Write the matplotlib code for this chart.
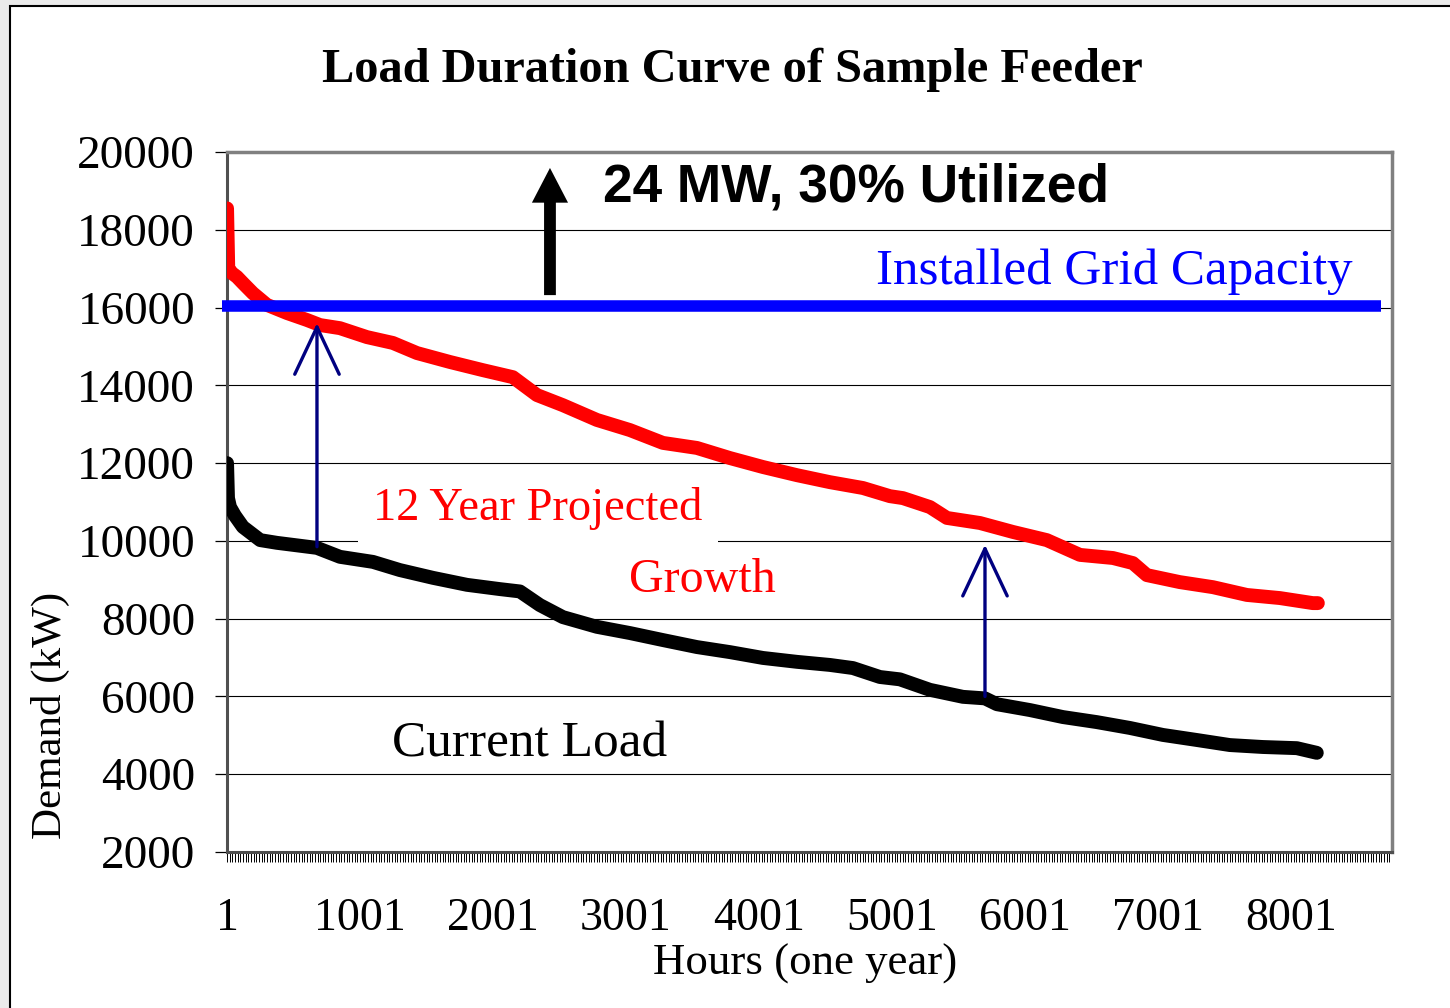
import numpy as np
import matplotlib.pyplot as plt
from matplotlib.patches import Rectangle

# load duration data (hour rank -> kW)
hours_current = [1, 8, 23, 60, 120, 250, 376, 677, 850, 1098, 1300, 1549, 1805,
                 2053, 2203, 2353, 2526, 2782, 3030, 3278, 3534, 3782, 4030, 4286,
                 4534, 4707, 4910, 5060, 5286, 5534, 5700, 5790, 6038, 6286, 6541,
                 6789, 7038, 7293, 7541, 7789, 8045, 8195]
load_current = [12000, 11100, 10870, 10650, 10360, 10020, 9950, 9820, 9590, 9460,
                9250, 9050, 8870, 8760, 8700, 8350, 8040, 7790, 7630, 7450, 7270,
                7140, 6990, 6890, 6810, 6730, 6500, 6440, 6170, 5990, 5950, 5800,
                5650, 5470, 5340, 5190, 5010, 4880, 4750, 4700, 4670, 4550]

hours_projected = [1, 10, 40, 75, 120, 195, 300, 451, 602, 700, 850, 1053, 1248,
                   1429, 1677, 1925, 2150, 2331, 2526, 2782, 3030, 3278, 3534, 3782,
                   4030, 4286, 4534, 4782, 4985, 5083, 5286, 5414, 5662, 5910, 6165,
                   6414, 6662, 6812, 6917, 7165, 7414, 7669, 7917, 8165, 8203]
load_projected = [18550, 17000, 16880, 16790, 16630, 16370, 16070, 15860, 15680,
                  15550, 15470, 15240, 15090, 14830, 14600, 14390, 14210, 13750,
                  13490, 13110, 12850, 12520, 12390, 12130, 11900, 11690, 11510,
                  11360, 11150, 11100, 10870, 10590, 10460, 10230, 10020, 9640, 9560,
                  9430, 9120, 8940, 8810, 8610, 8530, 8400, 8400]

capacity_kw = 16050
capacity_span = [-40, 8677]

x_ticks = [1, 1001, 2001, 3001, 4001, 5001, 6001, 7001, 8001]
y_ticks = list(range(2000, 20001, 2000))

# growth arrows (hour, from kW, to kW)
growth_arrows = [(677, 9850, 15600), (5700, 6000, 9900)]
util_arrow = (2429, 16320, 19590)

serif = "Liberation Serif"
sans = "Liberation Sans"

fig = plt.figure(figsize=(14.5, 10.08), dpi=100, facecolor="#ebebeb")
fig.add_artist(Rectangle((10 / 1450, -0.05), 1.1, 1 - 6 / 1008 + 0.05,
                         transform=fig.transFigure, facecolor="white",
                         edgecolor="black", lw=1.5, zorder=0))

ax = fig.add_axes([227 / 1450, 156 / 1008, 1165 / 1450, 700 / 1008])
ax.set_facecolor("white")

ax.plot(hours_current, load_current, color="black", lw=10,
        solid_capstyle="round", solid_joinstyle="round", zorder=3)
ax.plot(hours_projected, load_projected, color="#ff0000", lw=10,
        solid_capstyle="round", solid_joinstyle="round", zorder=3)
ax.plot(capacity_span, [capacity_kw, capacity_kw], color="#0000ff", lw=8.3,
        solid_capstyle="butt", clip_on=False, zorder=4)

for h, y0, y1 in growth_arrows:
    ax.annotate("", xy=(h, y1), xytext=(h, y0),
                arrowprops=dict(arrowstyle="->,head_length=3.4,head_width=1.6",
                                mutation_scale=10, color="#000080", lw=2.4,
                                shrinkA=0, shrinkB=0), zorder=5)

h, y0, y1 = util_arrow
ax.annotate("", xy=(h, y1), xytext=(h, y0),
            arrowprops=dict(arrowstyle="simple,head_length=0.5,head_width=0.52,tail_width=0.17",
                            mutation_scale=50, color="black", lw=0,
                            shrinkA=0, shrinkB=0), zorder=5)

ax.set_xlim(0.5, 8760.5)
ax.set_ylim(2000, 20000)
ax.set_yticks(y_ticks)
ax.set_xticks(x_ticks)
ax.set_xticks(np.arange(1, 8761, 20), minor=True)
ax.set_xticklabels([str(t) for t in x_ticks])
ax.grid(axis="y", color="black", lw=0.8, zorder=1)
ax.set_axisbelow(True)

ax.tick_params(axis="y", direction="out", length=9, width=0.9, pad=14,
               labelsize=34, colors="black")
ax.tick_params(axis="x", which="both", direction="out", length=7, width=0.7,
               pad=26, labelsize=33)
for lab in ax.get_xticklabels() + ax.get_yticklabels():
    lab.set_fontfamily(serif)

for side in ["top", "right"]:
    ax.spines[side].set_color("#808080")
    ax.spines[side].set_linewidth(2.5)
ax.spines["left"].set_color("#505050")
ax.spines["left"].set_linewidth(2.2)
ax.spines["bottom"].set_color("#505050")
ax.spines["bottom"].set_linewidth(2.2)

# annotations
ax.text(2827, 18740, "24 MW, 30% Utilized", family=sans, fontweight="bold",
        fontsize=38.3, va="baseline", zorder=6)
ax.text(4880, 16605, "Installed Grid Capacity", family=serif, fontsize=36.8,
        color="#0000ff", va="baseline", zorder=6)
ax.text(1098, 10537, "12 Year Projected", family=serif, fontsize=33.5,
        color="#ff0000", va="baseline", zorder=2,
        bbox=dict(boxstyle="square,pad=0.33", facecolor="white", edgecolor="none"))
ax.text(3023, 8685, "Growth", family=serif, fontsize=34.5, color="#ff0000",
        va="baseline", zorder=6)
ax.text(1241, 4443, "Current Load", family=serif, fontsize=37, color="black",
        va="baseline", zorder=6)

fig.text(732 / 1450, 1 - 82 / 1008, "Load Duration Curve of Sample Feeder",
         family=serif, fontweight="bold", fontsize=34.8, ha="center", va="baseline")
fig.text(805 / 1450, 1 - 975 / 1008, "Hours (one year)", family=serif,
         fontsize=32.3, ha="center", va="baseline")
fig.text(50 / 1450, 1 - 715 / 1008, "Demand (kW)", family=serif, fontsize=31,
         rotation=90, ha="center", va="center")

fig.savefig("out.png", dpi=100, facecolor=fig.get_facecolor())
